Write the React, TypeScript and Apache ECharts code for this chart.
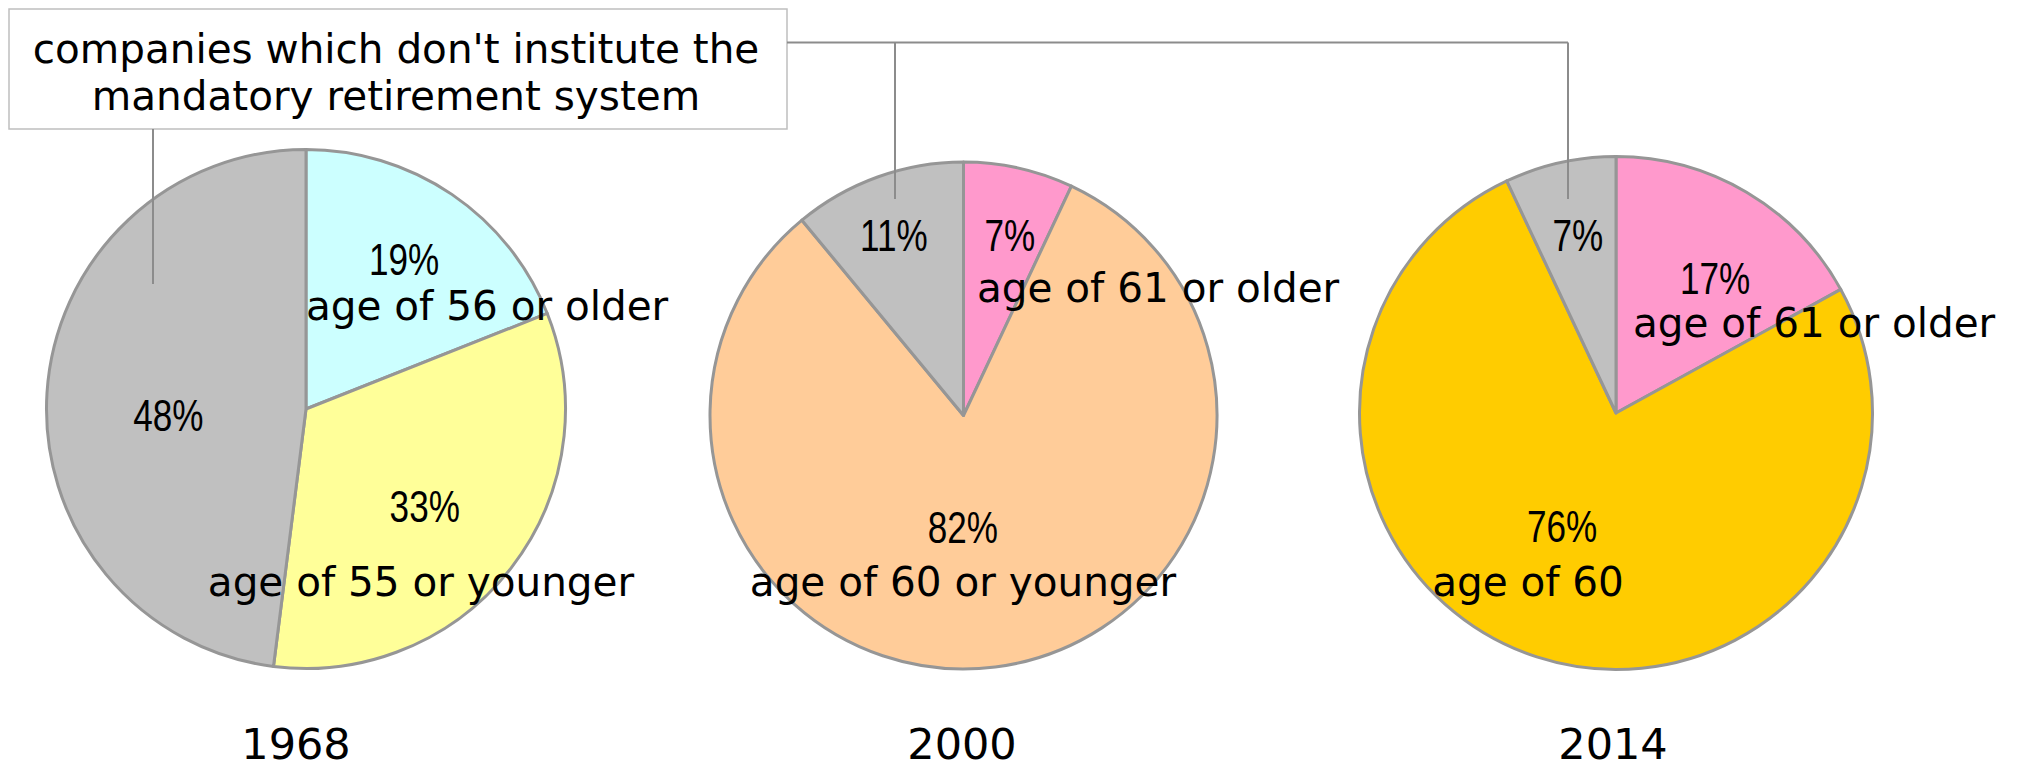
import React, { useEffect, useRef } from "react";
import * as echarts from "echarts";

// ---------- data ----------
const years = ["1968", "2000", "2014"];
const noSystemText = ["companies which don't institute the", "mandatory retirement system"];
const names1968 = ["age of 56 or older", "age of 55 or younger", "no mandatory retirement system"];
const values1968 = [19, 33, 48];
const names2000 = ["age of 61 or older", "age of 60 or younger", "no mandatory retirement system"];
const values2000 = [7, 82, 11];
const names2014 = ["age of 61 or older", "age of 60", "no mandatory retirement system"];
const values2014 = [17, 76, 7];

// ---------- styles / layout ----------
const colors1968 = ["#CCFFFF", "#FFFF99", "#C0C0C0"];
const colors2000 = ["#FF99CC", "#FFCC99", "#C0C0C0"];
const colors2014 = ["#FF99CC", "#FFCC00", "#C0C0C0"];

const pieCenters: [number, number][] = [[306, 409], [963.5, 415.5], [1616, 413]];
const pieRadii = [259.5, 253.5, 256.5];
// percent label placement: [radius fraction, angle delta (deg) from slice mid]
const pctPlacement = [
  [[0.69, -1], [0.593, 1.7], [0.531, -6.1]],
  [[0.735, 1.8], [0.44, 7.5], [0.763, -1.3]],
  [[0.653, 5.7], [0.488, 7.5], [0.71, 0.5]],
];
// category name text boxes [x, y, align]
const namePlacement: [number, number, string][][] = [
  [[306, 306, "left"], [421, 582, "center"]],
  [[977, 288, "left"], [963, 582, "center"]],
  [[1633, 323, "left"], [1528, 582, "center"]],
];
const yearPos: [number, number][] = [[296, 744], [962, 744], [1613, 744]];

const LABEL_FONT = "'DejaVu Sans', Verdana, sans-serif";
const PCT_FONT = "'Liberation Sans', Arial, sans-serif";

const allValues = [values1968, values2000, values2014];
const allNames = [names1968, names2000, names2014];
const allColors = [colors1968, colors2000, colors2014];

function midAngle(vals: number[], idx: number) {
  const total = vals.reduce((a, b) => a + b, 0);
  let cum = 0;
  for (let i = 0; i < idx; i++) cum += vals[i];
  return ((cum + vals[idx] / 2) / total) * 360;
}

export default function App() {
  const ref = useRef<HTMLDivElement>(null);
  useEffect(() => {
    if (!ref.current) return;
    const chart = echarts.init(ref.current, null, { renderer: "svg" });

    const series = allValues.map((vals, s) => ({
      type: "pie",
      center: pieCenters[s],
      radius: pieRadii[s],
      startAngle: 90,
      clockwise: true,
      avoidLabelOverlap: false,
      silent: true,
      emphasis: { disabled: true },
      itemStyle: { borderColor: "#969696", borderWidth: 3 },
      labelLine: { show: false },
      label: { show: false },
      data: vals.map((v, i) => ({
        name: allNames[s][i],
        value: v,
        itemStyle: { color: allColors[s][i] },
      })),
    }));

    const graphics: any[] = [];
    // callout box
    graphics.push({
      type: "rect",
      z: 100,
      shape: { x: 9, y: 9, width: 778, height: 120 },
      style: { fill: "#fff", stroke: "#BFBFBF", lineWidth: 1.5 },
    });
    noSystemText.forEach((t, k) => {
      graphics.push({
        type: "text",
        z: 101,
        x: 396,
        y: 49 + k * 47,
        style: { text: t, fontSize: 40.5, fontFamily: LABEL_FONT, fill: "#000", align: "center", verticalAlign: "middle" },
      });
    });
    // connector lines
    const lineStyle = { stroke: "#8C8C8C", lineWidth: 2, fill: null };
    graphics.push({ type: "line", z: 100, shape: { x1: 153, y1: 129, x2: 153, y2: 284 }, style: lineStyle });
    graphics.push({ type: "line", z: 100, shape: { x1: 787, y1: 42.5, x2: 1568, y2: 42.5 }, style: lineStyle });
    graphics.push({ type: "line", z: 100, shape: { x1: 895, y1: 42.5, x2: 895, y2: 199 }, style: lineStyle });
    graphics.push({ type: "line", z: 100, shape: { x1: 1568, y1: 42.5, x2: 1568, y2: 199 }, style: lineStyle });

    // percentage labels, placed from the slice geometry
    allValues.forEach((vals, s) => {
      vals.forEach((v, i) => {
        const [f, da] = pctPlacement[s][i];
        const a = ((midAngle(vals, i) + da) * Math.PI) / 180;
        const r = pieRadii[s] * f;
        graphics.push({
          type: "text",
          z: 101,
          x: pieCenters[s][0] + r * Math.sin(a),
          y: pieCenters[s][1] - r * Math.cos(a),
          scaleX: 0.78,
          style: { text: v + "%", fontSize: 45, fontFamily: PCT_FONT, fill: "#000", align: "center", verticalAlign: "middle" },
        });
      });
    });

    // category names
    namePlacement.forEach((arr, s) => {
      arr.forEach(([x, y, align], i) => {
        graphics.push({
          type: "text",
          z: 101,
          x,
          y,
          style: { text: allNames[s][i], fontSize: 40.5, fontFamily: LABEL_FONT, fill: "#000", align, verticalAlign: "middle" },
        });
      });
    });
    // years
    years.forEach((yr, s) => {
      graphics.push({
        type: "text",
        z: 101,
        x: yearPos[s][0],
        y: yearPos[s][1],
        style: { text: yr, fontSize: 43, fontFamily: LABEL_FONT, fill: "#000", align: "center", verticalAlign: "middle" },
      });
    });

    chart.setOption({
      animation: false,
      backgroundColor: "#fff",
      series,
      graphic: { elements: graphics },
    });
    return () => chart.dispose();
  }, []);

  return <div ref={ref} style={{ position: "fixed", left: 0, top: 0, width: 2017, height: 769 }} />;
}
